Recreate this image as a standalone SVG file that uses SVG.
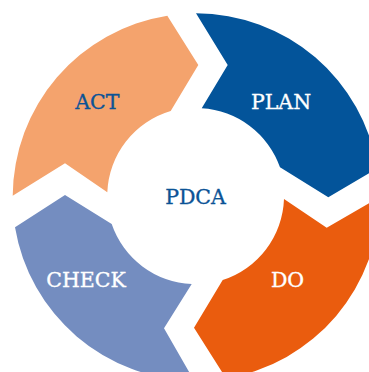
<svg xmlns="http://www.w3.org/2000/svg" width="369" height="372" viewBox="0 0 369 372">
<style>
.lbl{font-family:"DejaVu Serif","Liberation Serif",serif;font-size:20.5px;text-anchor:middle;stroke-width:0.35px}
.w{fill:#ffffff;stroke:#ffffff}
.b{fill:#0b5396;stroke:#0b5396}
</style>
<rect width="369" height="372" fill="#ffffff"/>
<g id="plan">
<path d="M196,13.3 A183.5,183.5 0 0 1 377.3,168.3 L328.3,197.3 L280,167.3 A88.5,88.5 0 0 0 201.7,108.3 L227.7,65 Z" fill="#03549a"/>
<text class="lbl w" x="281" y="109">PLAN</text>
</g>
<g id="do">
<path d="M326.7,227.7 L379.7,197 A183.5,183.5 0 0 1 226,378.3 L194,327.7 L222.7,280 A88.5,88.5 0 0 0 284,199 Z" fill="#ea5c0e"/>
<text class="lbl w" x="287.5" y="287">DO</text>
</g>
<g id="check">
<path d="M194,380.5 A183.5,183.5 0 0 1 15,227.3 L65,195 L111.7,224 A88.5,88.5 0 0 0 191.7,284 L164,328.3 Z" fill="#748dc0"/>
<text class="lbl w" x="86" y="287">CHECK</text>
</g>
<g id="act">
<path d="M12.7,195.7 A183.5,183.5 0 0 1 167.3,15.7 L198.3,65 L170.7,111 A88.5,88.5 0 0 0 107.3,192.3 L65,163.3 Z" fill="#f4a36d"/>
<text class="lbl b" x="97.3" y="109">ACT</text>
</g>
<g id="pdca">
<text class="lbl b" x="195.5" y="204">PDCA</text>
</g>
<g id="connectors"/>
</svg>
